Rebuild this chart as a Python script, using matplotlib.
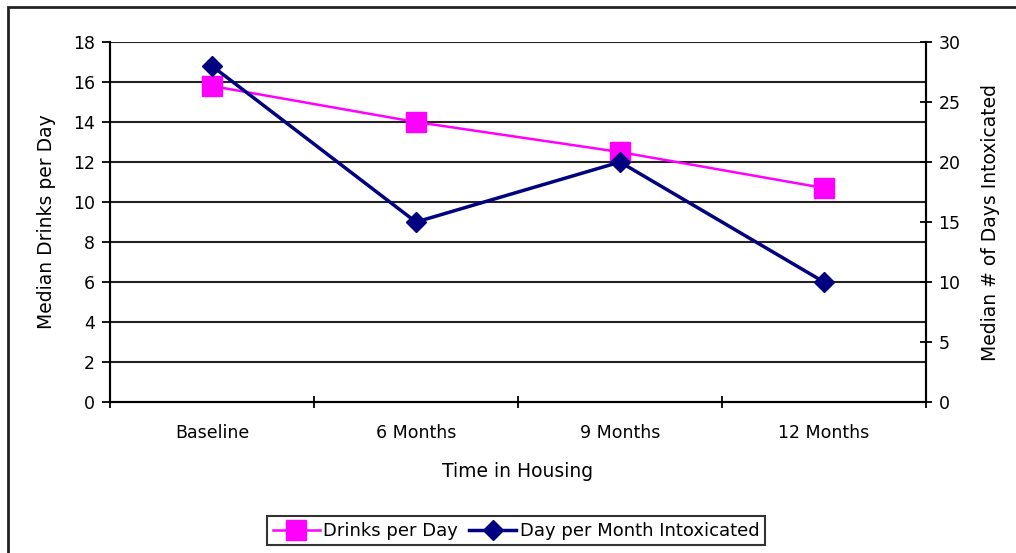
import numpy as np
import matplotlib.pyplot as plt
from matplotlib.patches import Rectangle

# ------------------------------------------------------------------
# data
# ------------------------------------------------------------------
categories = ["Baseline", "6 Months", "9 Months", "12 Months"]
drinks_per_day = [15.8, 14.0, 12.5, 10.7]          # left axis
days_intoxicated = [28, 15, 20, 10]                # right axis

plt.rcParams['font.family'] = ['DejaVu Sans']

fig = plt.figure(figsize=(10.16, 5.53), dpi=100)
ax = fig.add_axes([0.1083, 0.273, 0.8031, 0.651])
ax2 = ax.twinx()

x = np.arange(len(categories))

# horizontal grid (black, like old Excel)
for v in range(2, 19, 2):
    ax.axhline(v, color="#222222", lw=1.5, zorder=1)

ax.plot(x, drinks_per_day, "-s", color="#FF00FF", lw=1.8,
        markersize=14, label="Drinks per Day", zorder=3)
ax2.plot(x, days_intoxicated, "-D", color="#000080", lw=2.5,
         markersize=10, label="Day per Month Intoxicated", zorder=3)

ax.set_xlim(-0.5, len(categories) - 0.5)
ax.set_ylim(0, 18)
ax.set_yticks(range(0, 19, 2))
ax2.set_ylim(0, 30)
ax2.set_yticks(range(0, 31, 5))

ax.set_xticks(x)
ax.set_xticklabels(categories)
ax.set_xticks(np.arange(-0.5, len(categories)), minor=True)
ax.tick_params(axis="x", which="major", length=0, pad=16, labelsize=12.5)
ax.tick_params(axis="x", which="minor", length=8, direction="inout", width=1.3)
ax.tick_params(axis="y", length=6, width=1.3, labelsize=12.5, pad=5)
ax2.tick_params(axis="y", length=8, width=1.3, direction="inout", labelsize=12.5, pad=5)

for a in (ax, ax2):
    a.spines["top"].set_visible(False)
    a.spines["left"].set_linewidth(1.5)
    a.spines["right"].set_linewidth(1.5)
    a.spines["bottom"].set_linewidth(1.5)

ax.set_xlabel("Time in Housing", fontsize=13.5, labelpad=14)
ax.set_ylabel("Median Drinks per Day", fontsize=13.5, labelpad=12)
ax2.set_ylabel("Median # of Days Intoxicated", fontsize=13.5, labelpad=15)

h1, l1 = ax.get_legend_handles_labels()
h2, l2 = ax2.get_legend_handles_labels()
leg = fig.legend(h1 + h2, l1 + l2, loc="center", bbox_to_anchor=(0.508, 0.04),
                 ncol=2, fontsize=13, frameon=True, fancybox=False,
                 handlelength=2.6, columnspacing=0.6, handletextpad=0.2,
                 borderpad=0.3)
leg.get_frame().set_edgecolor("black")
leg.get_frame().set_linewidth(1.5)

# outer frame of the picture
fig.patches.append(Rectangle((0.008, -0.02), 1.1, 1.007, transform=fig.transFigure,
                             fill=False, edgecolor="#222222", lw=2))

fig.savefig("out.png", dpi=100)
